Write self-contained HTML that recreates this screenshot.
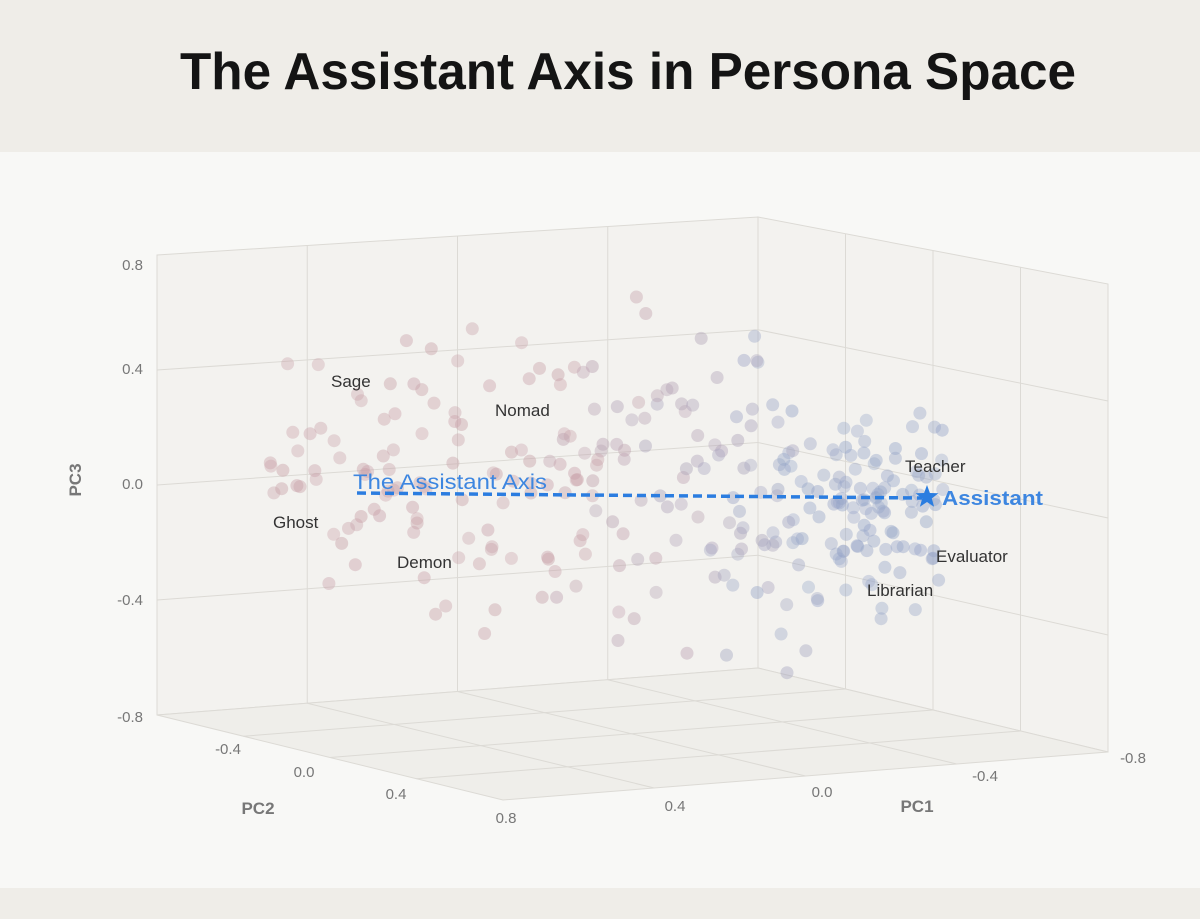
<!DOCTYPE html>
<html><head><meta charset="utf-8">
<style>
html,body{margin:0;padding:0;background:#efede8;}
svg{display:block;font-family:"Liberation Sans",sans-serif;}
</style></head>
<body>
<svg id="s" width="1200" height="919" viewBox="0 0 1200 919" xmlns="http://www.w3.org/2000/svg">
<rect x="0" y="0" width="1200" height="919" fill="#efede8"/>
<rect x="0" y="152" width="1200" height="736" fill="#f8f8f6"/>
<text x="628" y="89" text-anchor="middle" font-size="52" font-weight="bold" fill="#141414" textLength="896" lengthAdjust="spacingAndGlyphs">The Assistant Axis in Persona Space</text>
<polygon points="157,255 758,217 758,668 157,715" fill="#f3f2ef" stroke="#dcdad5" stroke-width="1"/>
<polygon points="758,217 1108,284 1108,752 758,668" fill="#f3f2ef" stroke="#dcdad5" stroke-width="1"/>
<polygon points="157,715 758,668 1108,752 503,800" fill="#efeeea" stroke="#dcdad5" stroke-width="1"/>
<g id="grid" stroke="#dcdad5" stroke-width="1" fill="none"></g>
<g id="pts"></g>
<line x1="357" y1="493" x2="922" y2="498" stroke="#2b7de0" stroke-width="3.5" stroke-dasharray="9,5"/>
<polygon id="star" fill="#2b7de0"/>
<g font-size="17" fill="#333">
<text x="331" y="387">Sage</text>
<text x="495" y="416">Nomad</text>
<text x="273" y="528">Ghost</text>
<text x="397" y="568">Demon</text>
<text x="905" y="472">Teacher</text>
<text x="936" y="562">Evaluator</text>
<text x="867" y="596">Librarian</text>
</g>
<text x="353" y="489" font-size="21" fill="#3d86e0" textLength="194" lengthAdjust="spacingAndGlyphs">The Assistant Axis</text>
<text x="942" y="505" font-size="20" font-weight="bold" fill="#3d86e0" textLength="101" lengthAdjust="spacingAndGlyphs">Assistant</text>
<g font-size="15" fill="#777">
<text x="143" y="270" text-anchor="end">0.8</text>
<text x="143" y="374" text-anchor="end">0.4</text>
<text x="143" y="489" text-anchor="end">0.0</text>
<text x="143" y="605" text-anchor="end">-0.4</text>
<text x="143" y="722" text-anchor="end">-0.8</text>
<text x="228" y="754" text-anchor="middle">-0.4</text>
<text x="304" y="777" text-anchor="middle">0.0</text>
<text x="396" y="799" text-anchor="middle">0.4</text>
<text x="506" y="823" text-anchor="middle">0.8</text>
<text x="675" y="811" text-anchor="middle">0.4</text>
<text x="822" y="797" text-anchor="middle">0.0</text>
<text x="985" y="781" text-anchor="middle">-0.4</text>
<text x="1133" y="763" text-anchor="middle">-0.8</text>
</g>
<g font-size="17" font-weight="bold" fill="#777">
<text x="258" y="814" text-anchor="middle">PC2</text>
<text x="917" y="812" text-anchor="middle">PC1</text>
<text transform="translate(81,480) rotate(-90)" text-anchor="middle">PC3</text>
</g>
</svg>
<script>
(function(){
var NS="http://www.w3.org/2000/svg";
var g=document.getElementById('grid');
function ln(a,b){var l=document.createElementNS(NS,'line');l.setAttribute('x1',a[0]);l.setAttribute('y1',a[1]);l.setAttribute('x2',b[0]);l.setAttribute('y2',b[1]);g.appendChild(l);}
function lerp(a,b,t){return [a[0]+(b[0]-a[0])*t,a[1]+(b[1]-a[1])*t];}
var LT=[157,255],BT=[758,217],RT=[1108,284],L=[157,715],B=[758,668],R=[1108,752],F=[503,800];
for(var i=1;i<4;i++){var t=i/4;
 ln(lerp(LT,BT,t),lerp(L,B,t));
 ln(lerp(LT,L,t),lerp(BT,B,t));
 ln(lerp(BT,RT,t),lerp(B,R,t));
 ln(lerp(BT,B,t),lerp(RT,R,t));
 ln(lerp(L,B,t),lerp(F,R,t));
 ln(lerp(L,F,t),lerp(B,R,t));
}
var seed=7;function rnd(){seed=(seed*16807)%2147483647;return (seed-1)/2147483646;}
function gauss(){return (rnd()+rnd()+rnd()-1.5)/0.5*0.5;}
var p=document.getElementById('pts');
function dot(x,y,c,o){var e=document.createElementNS(NS,'circle');e.setAttribute('cx',x);e.setAttribute('cy',y);e.setAttribute('r',6.5);e.setAttribute('fill',c);e.setAttribute('fill-opacity',o);p.appendChild(e);}
for(var k=0;k<320;k++){
 var u=rnd(); u=Math.pow(u,0.8);
 var x=270+u*675;
 var cy=480+ (x-600)*0.03 + (x>750?(x-750)*0.15:0);
 var sp=(x<400?70:(x>820?65:110));
 var y=cy+gauss()*sp*1.3;
 var t=Math.min(1,Math.max(0,(x-560)/250+ (rnd()-0.5)*0.5));
 var r=Math.round(200+(150-200)*t),gg=Math.round(160+(165-160)*t),b=Math.round(168+(200-168)*t);
 dot(x.toFixed(1),y.toFixed(1),'rgb('+r+','+gg+','+b+')',0.35+0.1*rnd());
}
var s=document.getElementById('star'),pts=[],cx=927,cy2=497;
for(var j=0;j<10;j++){var a=-Math.PI/2+j*Math.PI/5,rr=j%2?5:12;pts.push((cx+rr*Math.cos(a)).toFixed(1)+','+(cy2+rr*Math.sin(a)).toFixed(1));}
s.setAttribute('points',pts.join(' '));
})();
</script>
</body></html>
